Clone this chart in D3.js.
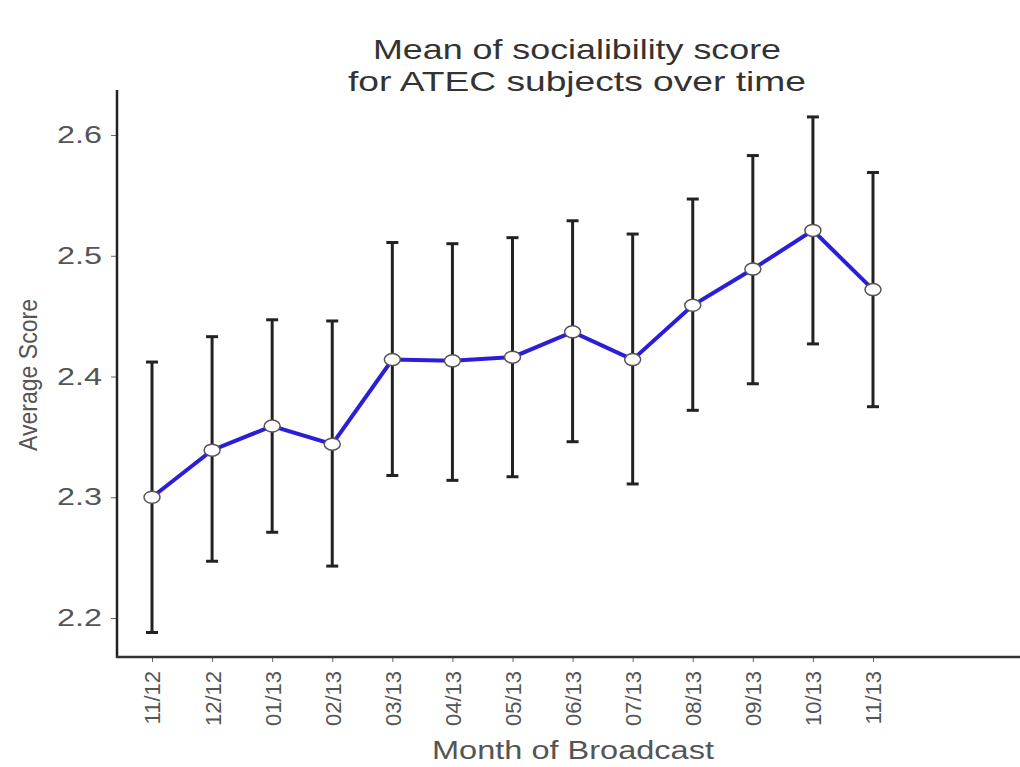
<!DOCTYPE html>
<meta charset="utf-8">
<script src="https://d3js.org/d3.v7.min.js"></script>
<style>
  body { margin:0; background:#fff; }
  text { font-family: "Liberation Sans", Arial, sans-serif; }
</style>
<div id="chart"></div>
<script>
    const months = ["11/12","12/12","01/13","02/13","03/13","04/13","05/13","06/13","07/13","08/13","09/13","10/13","11/13"];
    const means  = [2.300, 2.339, 2.359, 2.344, 2.414, 2.413, 2.416, 2.437, 2.414, 2.459, 2.489, 2.521, 2.472];
    const upper  = [2.412, 2.433, 2.447, 2.446, 2.511, 2.510, 2.515, 2.529, 2.518, 2.547, 2.583, 2.615, 2.569];
    const lower  = [2.188, 2.247, 2.271, 2.243, 2.318, 2.314, 2.317, 2.346, 2.311, 2.372, 2.394, 2.427, 2.375];
    const yTicks = [2.2, 2.3, 2.4, 2.5, 2.6];

    const data = months.map((m,i) => ({month:m, mean:means[i], hi:upper[i], lo:lower[i]}));

    const W = 1020, H = 767;
    const svg = d3.select("#chart").append("svg")
        .attr("width", W).attr("height", H);

    const x = d3.scalePoint().domain(months).range([152, 873]);
    const y = d3.scaleLinear().domain([2.1677, 2.6373]).range([657, 90]);

    // title (the source image is stretched sideways, so the text is too)
    svg.append("text").attr("x", 577).attr("y", 59).attr("text-anchor","middle")
        .attr("textLength",408).attr("lengthAdjust","spacingAndGlyphs")
        .style("font-size","28px").style("fill","#333").text("Mean of socialibility score");
    svg.append("text").attr("x", 577).attr("y", 91).attr("text-anchor","middle")
        .attr("textLength",458).attr("lengthAdjust","spacingAndGlyphs")
        .style("font-size","28px").style("fill","#333").text("for ATEC subjects over time");

    // axes
    const yAxis = svg.append("g")
        .attr("transform","translate(117,0)")
        .call(d3.axisLeft(y).tickValues(yTicks).tickFormat(d3.format(".1f")).tickSize(6).tickPadding(9));
    yAxis.select(".domain").remove();
    yAxis.selectAll(".tick line").attr("stroke","#666");
    yAxis.selectAll(".tick text")
        .attr("textLength",45).attr("lengthAdjust","spacingAndGlyphs")
        .style("font-size","24px").style("fill","#555");

    svg.append("line").attr("x1",117).attr("x2",117).attr("y1",90).attr("y2",658)
        .attr("stroke","#222").attr("stroke-width",2.5);

    const xAxis = svg.append("g")
        .attr("transform","translate(0,657)")
        .call(d3.axisBottom(x).tickSize(5).tickPadding(0));
    xAxis.select(".domain").remove();
    xAxis.selectAll(".tick line").attr("stroke","#666");
    xAxis.selectAll(".tick text")
        .attr("text-anchor","end")
        .attr("transform","rotate(-90)")
        .attr("x",-14).attr("y",0).attr("dy","0.36em")
        .style("font-size","22px").style("fill","#555");

    svg.append("line").attr("x1",116).attr("x2",W).attr("y1",657).attr("y2",657)
        .attr("stroke","#333").attr("stroke-width",2.5);

    // axis titles
    svg.append("text").attr("x",573).attr("y",759).attr("text-anchor","middle")
        .attr("textLength",282).attr("lengthAdjust","spacingAndGlyphs")
        .style("font-size","26px").style("fill","#555").text("Month of Broadcast");
    svg.append("text")
        .attr("transform","translate(37,375) rotate(-90)")
        .attr("text-anchor","middle")
        .attr("textLength",152).attr("lengthAdjust","spacingAndGlyphs")
        .style("font-size","25px").style("fill","#555").text("Average Score");

    // error bars
    const eb = svg.append("g").attr("stroke","#222").attr("stroke-width",3);
    eb.selectAll(".v").data(data).join("line")
        .attr("x1",d=>x(d.month)).attr("x2",d=>x(d.month))
        .attr("y1",d=>y(d.hi)).attr("y2",d=>y(d.lo));
    eb.selectAll(".ct").data(data).join("line")
        .attr("x1",d=>x(d.month)-6).attr("x2",d=>x(d.month)+6)
        .attr("y1",d=>y(d.hi)).attr("y2",d=>y(d.hi));
    eb.selectAll(".cb").data(data).join("line")
        .attr("x1",d=>x(d.month)-6).attr("x2",d=>x(d.month)+6)
        .attr("y1",d=>y(d.lo)).attr("y2",d=>y(d.lo));

    // mean line
    svg.append("path").datum(data)
        .attr("fill","none").attr("stroke","#2b1ed8").attr("stroke-width",4)
        .attr("d", d3.line().x(d=>x(d.month)).y(d=>y(d.mean)));

    svg.append("g").selectAll("ellipse").data(data).join("ellipse")
        .attr("cx",d=>x(d.month)).attr("cy",d=>y(d.mean))
        .attr("rx",8).attr("ry",6)
        .attr("fill","#fff").attr("stroke","#555").attr("stroke-width",1.5);
</script>
